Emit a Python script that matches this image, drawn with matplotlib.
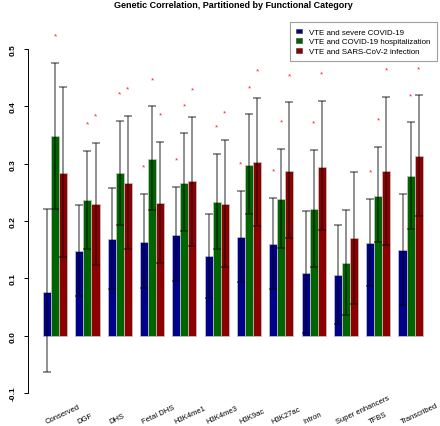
import numpy as np
import matplotlib
matplotlib.use("Agg")
import matplotlib.pyplot as plt
from matplotlib.patches import Patch

plt.rcParams['font.family'] = ['Liberation Sans', 'DejaVu Sans']

categories = ["Conserved", "DGF", "DHS", "Fetal DHS", "H3K4me1", "H3K4me3",
              "H3K9ac", "H3K27ac", "Intron", "Super enhancers", "TFBS", "Transcribed"]
series = ["VTE and severe COVID-19", "VTE and COVID-19 hospitalization",
          "VTE and SARS-CoV-2 infection"]

# genetic correlation estimates + 95% CI bounds
severe = [0.077, 0.148, 0.169, 0.164, 0.176, 0.139, 0.172, 0.160, 0.110, 0.106, 0.161, 0.149]
severe_lo = [-0.064, 0.070, 0.081, 0.083, 0.095, 0.066, 0.093, 0.081, 0.004, 0.020, 0.086, 0.054]
severe_hi = [0.221, 0.228, 0.258, 0.248, 0.259, 0.213, 0.253, 0.241, 0.217, 0.193, 0.239, 0.247]

hosp = [0.348, 0.237, 0.283, 0.309, 0.266, 0.234, 0.298, 0.238, 0.221, 0.127, 0.244, 0.279]
hosp_lo = [0.221, 0.152, 0.193, 0.219, 0.183, 0.152, 0.213, 0.153, 0.120, 0.037, 0.163, 0.186]
hosp_hi = [0.476, 0.323, 0.374, 0.400, 0.353, 0.317, 0.386, 0.326, 0.324, 0.220, 0.329, 0.372]

infect = [0.284, 0.229, 0.267, 0.232, 0.269, 0.230, 0.303, 0.288, 0.295, 0.171, 0.287, 0.313]
infect_lo = [0.137, 0.123, 0.152, 0.127, 0.157, 0.119, 0.192, 0.171, 0.184, 0.056, 0.159, 0.208]
infect_hi = [0.433, 0.337, 0.384, 0.338, 0.381, 0.342, 0.415, 0.407, 0.409, 0.286, 0.417, 0.419]

# significance flags (red asterisks)
severe_sig = [0, 0, 0, 1, 1, 0, 1, 1, 0, 0, 1, 0]
hosp_sig = [1, 1, 1, 1, 1, 1, 1, 1, 1, 0, 1, 1]
infect_sig = [0, 1, 1, 1, 1, 1, 1, 1, 1, 0, 1, 1]

colors = ["#00008B", "#006400", "#8B0000"]

fig = plt.figure(figsize=(4.4, 4.27), dpi=100)
ax = fig.add_axes([0.0632, 0.0436, 0.932, 0.9063])

n = len(categories)
groups = [(severe, severe_lo, severe_hi, severe_sig),
          (hosp, hosp_lo, hosp_hi, hosp_sig),
          (infect, infect_lo, infect_hi, infect_sig)]

for k, (vals, lo, hi, sig) in enumerate(groups):
    x = np.arange(n) * 4 + 1.5 + k
    vals = np.array(vals)
    lo = np.array(lo)
    hi = np.array(hi)
    ax.bar(x, vals, width=1, color=colors[k], edgecolor="#c8c8c8", linewidth=0.5, zorder=2)
    ax.errorbar(x, vals, yerr=[vals - lo, hi - vals], fmt="none", ecolor="black",
                alpha=0.55, elinewidth=1.1, capsize=2.6, capthick=1.1, zorder=3)
    for xi, h, s in zip(x, hi, sig):
        if s:
            ax.text(xi, h + 0.047, "*", color="#ff2020", fontsize=6, ha="center",
                    va="center", zorder=4)

ax.set_xlim(-0.88, 49.88)
ax.set_ylim(-0.125, 0.55)
ax.set_xticks([])
ax.set_yticks([-0.1, 0.0, 0.1, 0.2, 0.3, 0.4, 0.5])
ax.set_yticklabels(["-0.1", "0.0", "0.1", "0.2", "0.3", "0.4", "0.5"],
                   rotation=90, va="center", fontsize=6, fontweight="bold")
ax.tick_params(axis="y", length=2.9, width=0.7, pad=5)
for s in ["top", "right", "bottom"]:
    ax.spines[s].set_visible(False)
ax.spines["left"].set_bounds(-0.1, 0.5)
ax.spines["left"].set_linewidth(0.7)

for i, c in enumerate(categories):
    ax.text(4 * i + 1.4, -0.153, c, rotation=25, rotation_mode="anchor",
            ha="left", va="baseline", fontsize=5.5, clip_on=False)

fig.text(0.53, 1 - 5.5 / 427, "Genetic Correlation, Partitioned by Functional Category",
         ha="center", va="center", fontsize=6.5, fontweight="bold")

handles = [Patch(facecolor=c, edgecolor="#333333", linewidth=0.4) for c in colors]
leg = ax.legend(handles, series, loc="upper right", bbox_to_anchor=(0.997, 0.995),
                fontsize=5.7, frameon=True, fancybox=False, edgecolor="#888888",
                borderaxespad=0.0, handlelength=0.75, handleheight=0.55,
                handletextpad=0.9, labelspacing=0.3, borderpad=0.8)
leg.get_frame().set_linewidth(0.8)

fig.savefig("out.png", dpi=100)
